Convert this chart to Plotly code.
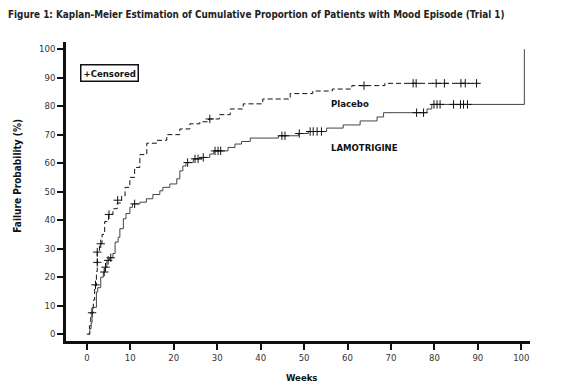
import plotly.graph_objects as go

# Placebo KM step curve (weeks, cumulative % with episode)
placebo_weeks = [0, 0.6, 0.9, 1.5, 1.8, 2.2, 2.4, 2.9, 3.5, 4.1, 5.0, 6.0, 7.0, 8.0, 8.8, 9.9,
                 11.0, 12.2, 13.8, 16.1, 18.4, 21.4, 23.7, 26.0, 28.0, 30.5, 33.0, 36.0, 40.5,
                 46.8, 52.0, 56.5, 61.0, 68.6, 90.0]
placebo_pct = [0, 3, 7.5, 12, 17, 22, 29, 31.7, 35, 39.5, 42, 44, 46, 48.5, 51.5, 55,
               58.5, 63, 67, 68, 70, 72, 73.8, 74.5, 75.5, 77, 79, 80.8, 82.5,
               84.4, 85.3, 86, 87.2, 88.0, 88.0]
placebo_cens_weeks = [1.2, 2.0, 2.4, 2.4, 3.2, 5.1, 7.1, 28.3, 63.8, 75.1, 75.8, 80.4, 82.3,
                      86.1, 87.1, 89.7]
placebo_cens_pct = [7.5, 17.3, 25.2, 28.8, 31.7, 42, 47, 75.5, 87.2, 88, 88, 88, 88,
                    88, 88, 88]

# Lamotrigine KM step curve
lamo_weeks = [0.3, 0.7, 1.0, 1.2, 2.2, 2.5, 3.2, 3.8, 4.2, 4.6, 5.2, 6.0, 6.5, 7.2, 7.6, 8.4,
              9.0, 9.9, 10.5, 12.2, 13.7, 15.2, 16.8, 17.5, 19.1, 20.7, 21.4, 22.1, 22.8,
              24.5, 26.5, 28.3, 29.2, 32.5, 34.1, 35.6, 37.6, 44.1, 48.7, 51.0, 55.2, 59.0,
              62.9, 66.8, 68.3, 78.3, 79.4, 100.7]
lamo_pct = [0, 2, 4, 9.4, 14.8, 16.3, 20, 21.8, 23.5, 25.9, 26.8, 28.3, 32.3, 34, 37, 40.5,
            42.3, 44.5, 45.7, 46.3, 47.5, 49, 50.3, 51.5, 52.7, 54.5, 57.3, 59, 60.2,
            61.5, 62, 63.2, 64.3, 65.5, 66.7, 67.6, 68.8, 69.6, 70.4, 71.1, 72.3, 73.4,
            74.8, 76.2, 77.7, 79, 80.6, 100]
lamo_cens_weeks = [4.0, 4.3, 4.9, 5.5, 11.0, 23.2, 24.9, 25.6, 26.8, 29.5, 30.2, 30.8, 44.9,
                   45.6, 48.9, 51.4, 52.1, 53.0, 54.0, 75.9, 77.5, 79.9, 80.6, 81.3, 84.4,
                   86.0, 86.7, 87.6]
lamo_cens_pct = [21.8, 23.5, 25.9, 26.8, 45.7, 60.2, 61.5, 61.5, 62, 64.3, 64.3, 64.3, 69.6,
                 69.6, 70.4, 71.1, 71.1, 71.1, 71.1, 77.7, 77.7, 80.6, 80.6, 80.6, 80.6,
                 80.6, 80.6, 80.6]

x_ticks = list(range(0, 101, 10))
y_ticks = list(range(0, 101, 10))

FONT = "Liberation Sans Narrow, DejaVu Sans Condensed, sans-serif"

fig = go.Figure()
fig.add_trace(go.Scatter(x=placebo_weeks, y=placebo_pct, mode="lines", line_shape="hv",
                         line=dict(color="#111", width=1.0, dash="5px,3px"), showlegend=False))
fig.add_trace(go.Scatter(x=lamo_weeks, y=lamo_pct, mode="lines", line_shape="hv",
                         line=dict(color="#444", width=1.0), showlegend=False))
fig.add_trace(go.Scatter(x=placebo_cens_weeks, y=placebo_cens_pct, mode="markers",
                         marker=dict(symbol="cross-thin", size=6, line=dict(color="#111", width=1)),
                         showlegend=False))
fig.add_trace(go.Scatter(x=lamo_cens_weeks, y=lamo_cens_pct, mode="markers",
                         marker=dict(symbol="cross-thin", size=6, line=dict(color="#111", width=1)),
                         showlegend=False))

fig.update_layout(
    width=565, height=384,
    margin=dict(l=58, r=43, t=34, b=51),
    paper_bgcolor="white", plot_bgcolor="white",
    font=dict(family=FONT, color="#222", size=9.5),
    title=dict(text="<b>Figure 1: Kaplan-Meier Estimation of Cumulative Proportion of Patients with Mood Episode (Trial 1)</b>",
               xref="container", x=0.0, xanchor="left", yref="container", y=1 - 7 / 384, yanchor="middle",
               font=dict(family=FONT, size=9.85, color="#222")),
    xaxis=dict(range=[-4.8, 102], tickvals=x_ticks, showgrid=False, zeroline=False,
               showline=True, linecolor="#111", linewidth=2.5, ticks="outside", ticklen=6,
               tickwidth=2, tickcolor="#111", tickfont=dict(size=9.5, color="#333")),
    yaxis=dict(range=[-2.4, 102.5], tickvals=y_ticks, showgrid=False, zeroline=False,
               showline=True, linecolor="#111", linewidth=2.5, ticks="outside", ticklen=6,
               tickwidth=2, tickcolor="#111", tickfont=dict(size=9.5, color="#333")),
    annotations=[
        dict(text="<b>+Censored</b>", x=-1.6, y=91.8, xref="x", yref="y", xanchor="left",
             yanchor="middle", showarrow=False, bordercolor="#111", borderwidth=1.5, borderpad=2,
             font=dict(size=9.5, color="#111")),
        dict(text="<b>Placebo</b>", x=55.8, y=80.8, xref="x", yref="y", xanchor="left",
             yanchor="middle", showarrow=False, font=dict(size=9.5, color="#111")),
        dict(text="<b>LAMOTRIGINE</b>", x=55.8, y=65.4, xref="x", yref="y", xanchor="left",
             yanchor="middle", showarrow=False, font=dict(size=9.5, color="#111")),
        dict(text="<b>Failure Probability (%)</b>", x=-0.1034, y=(334 - 175) / 2.86, xref="paper",
             yref="y", xanchor="center", yanchor="middle", textangle=-90, showarrow=False,
             font=dict(size=10, color="#111")),
        dict(text="<b>Weeks</b>", x=(301.7 - 87) / 4.34, y=-0.123, xref="x", yref="paper",
             xanchor="center", yanchor="middle", showarrow=False, font=dict(size=9.5, color="#111")),
    ],
)

fig.write_html("out.html")
